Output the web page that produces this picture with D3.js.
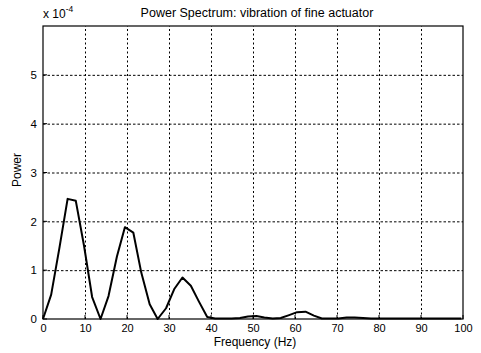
<!DOCTYPE html>
<html>
<head>
<meta charset="utf-8">
<script src="https://cdn.jsdelivr.net/npm/d3@7"></script>
<style>
  html, body { margin: 0; padding: 0; background: #fff; }
  svg { display: block; }
  text { font-family: "Liberation Sans", Arial, Helvetica, sans-serif; fill: #000; }
</style>
</head>
<body>
<svg id="chart" width="481" height="353"></svg>
<script>
// Frequency bins (Hz)
const frequency = [0, 1.95, 3.9, 5.86, 7.81, 9.77, 11.7, 13.7, 15.6, 17.6, 19.5, 21.5, 23.4, 25.4, 27.3,
  29.3, 31.3, 33.2, 35.2, 37.1, 39.1, 41.0, 43.0, 44.9, 46.9, 48.8, 50.8, 52.7, 54.7, 56.6, 58.6,
  60.5, 62.5, 64.5, 66.4, 68.4, 70.3, 72.3, 74.2, 76.2, 78.1, 80.1, 82.0, 84.0, 85.9, 87.9, 89.8,
  91.8, 93.8, 95.7, 97.7, 99.6];
// Power, in units of 1e-4
const power = [0, 0.5, 1.45, 2.46, 2.42, 1.5, 0.45, 0.0, 0.47, 1.28, 1.88, 1.77, 0.95, 0.3, 0.0,
  0.22, 0.62, 0.85, 0.68, 0.36, 0.04, 0.01, 0.01, 0.01, 0.02, 0.05, 0.06, 0.03, 0.01, 0.02, 0.08,
  0.14, 0.15, 0.07, 0.01, 0.01, 0.01, 0.03, 0.03, 0.02, 0.01, 0.01, 0.01, 0.01, 0.01, 0.01, 0.01,
  0.01, 0.01, 0.01, 0.01, 0.01];
const xTicks = [0, 10, 20, 30, 40, 50, 60, 70, 80, 90, 100];
const yTicks = [0, 1, 2, 3, 4, 5];
const titleText = "Power Spectrum: vibration of fine actuator";
const xLabel = "Frequency (Hz)";
const yLabel = "Power";

const svg = d3.select("#chart");
const m = { left: 43, top: 26, right: 18, bottom: 34 };
const W = 481 - m.left - m.right;   // 420
const H = 353 - m.top - m.bottom;   // 293

const x = d3.scaleLinear().domain([0, 100]).range([0, W]);
const y = d3.scaleLinear().domain([0, 6]).range([H, 0]);

const g = svg.append("g").attr("transform", `translate(${m.left},${m.top})`);

// grid
const gx = g.append("g").attr("transform", `translate(0,${H})`)
  .call(d3.axisBottom(x).tickValues(xTicks.slice(1, -1)).tickSize(-H).tickFormat(""));
gx.select(".domain").remove();
gx.selectAll("line").attr("stroke", "#000").attr("stroke-width", 1).attr("stroke-dasharray", "2,2.5");

const gy = g.append("g")
  .call(d3.axisLeft(y).tickValues(yTicks.slice(1)).tickSize(-W).tickFormat(""));
gy.select(".domain").remove();
gy.selectAll("line").attr("stroke", "#000").attr("stroke-width", 1).attr("stroke-dasharray", "2.5,2");

// tick labels
const ax = g.append("g").attr("transform", `translate(0,${H})`)
  .call(d3.axisBottom(x).tickValues(xTicks).tickSize(0).tickPadding(5).tickFormat(d3.format("d")));
ax.select(".domain").remove();
ax.selectAll("text").attr("font-size", 11).attr("fill", "#000");

const ay = g.append("g")
  .call(d3.axisLeft(y).tickValues(yTicks).tickSize(0).tickPadding(6).tickFormat(d3.format("d")));
ay.select(".domain").remove();
ay.selectAll("text").attr("font-size", 11.5).attr("fill", "#000");

// inward ticks
g.append("g").selectAll("line.xt").data(xTicks).join("line")
  .attr("x1", d => x(d)).attr("x2", d => x(d)).attr("y1", H).attr("y2", H - 4)
  .attr("stroke", "#000");
g.append("g").selectAll("line.yt").data(yTicks).join("line")
  .attr("x1", 0).attr("x2", 4).attr("y1", d => y(d)).attr("y2", d => y(d))
  .attr("stroke", "#000");

// data line
const line = d3.line().x((d, i) => x(frequency[i])).y(d => y(d));
g.append("path").datum(power)
  .attr("d", line)
  .attr("fill", "none")
  .attr("stroke", "#000")
  .attr("stroke-width", 2)
  .attr("stroke-linejoin", "round");

// frame
g.append("rect").attr("x", 0).attr("y", 0).attr("width", W).attr("height", H)
  .attr("fill", "none").attr("stroke", "#000").attr("stroke-width", 1.2);

// title & labels
svg.append("text").attr("x", 257).attr("y", 17).attr("text-anchor", "middle")
  .attr("font-size", 12.5).text(titleText);

const exp = svg.append("text").attr("x", 43).attr("y", 18).attr("font-size", 12);
exp.append("tspan").text("x 10");
exp.append("tspan").attr("dy", -6).attr("font-size", 8.5).text("-4");

svg.append("text").attr("x", 255).attr("y", 346).attr("text-anchor", "middle")
  .attr("font-size", 12).text(xLabel);

svg.append("text").attr("transform", "translate(21,170) rotate(-90)")
  .attr("text-anchor", "middle").attr("font-size", 12).text(yLabel);
</script>
</body>
</html>
